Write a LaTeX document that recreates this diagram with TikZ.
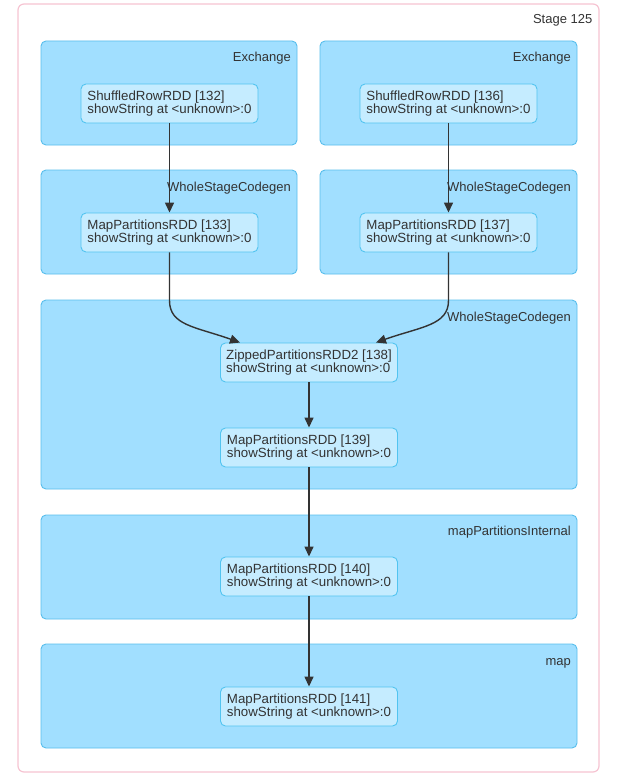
\documentclass[tikz,border=0pt]{standalone}
\usepackage{fontspec}
\setmainfont{Liberation Sans}
\usetikzlibrary{arrows.meta,calc}
\definecolor{stageline}{RGB}{246,196,210}
\definecolor{clfill}{RGB}{161,223,255}
\definecolor{clline}{RGB}{88,190,236}
\definecolor{rddfill}{RGB}{197,236,255}
\definecolor{rddline}{RGB}{82,196,240}
\definecolor{ink}{RGB}{51,51,51}
\tikzset{
  stagebox/.style={draw=stageline, line width=1.2pt, rounded corners=6pt, fill=white, inner sep=0pt},
  cluster/.style={draw=clline, line width=0.9pt, fill=clfill, rounded corners=5pt, inner sep=0pt},
  rdd/.style={draw=rddline, line width=0.9pt, fill=rddfill, rounded corners=5pt,
    minimum width=177pt, minimum height=39pt, inner xsep=0pt, inner ysep=0pt,
    align=left, text=ink, font=\fontsize{13.3}{12.8}\selectfont},
  clabel/.style={anchor=base east, inner sep=0pt, text=ink, font=\fontsize{13}{14}\selectfont},
  edge/.style={draw=ink, line width=1.4pt, -{Triangle[length=10pt,width=9pt]}}
}
\begin{document}
\begin{tikzpicture}[x=1pt, y=-1pt]
  \useasboundingbox (0,0) rectangle (619,784);

  % stage frame
  \node[stagebox, minimum width=581pt, minimum height=768pt] (stage) at (308.5,388) {};
  \node[clabel] (stagelbl) at (592.5,24) {Stage 125};

  % clusters
  \node[cluster, minimum width=256pt, minimum height=104pt] (ex1) at (169,93) {};
  \node[cluster, minimum width=257pt, minimum height=104pt] (ex2) at (448.5,93) {};
  \node[cluster, minimum width=256pt, minimum height=104pt] (wsc1) at (169,222) {};
  \node[cluster, minimum width=257pt, minimum height=104pt] (wsc2) at (448.5,222) {};
  \node[cluster, minimum width=536pt, minimum height=189pt] (wsc3) at (309,394.5) {};
  \node[cluster, minimum width=536pt, minimum height=104pt] (mpi) at (309,567) {};
  \node[cluster, minimum width=536pt, minimum height=104pt] (mp) at (309,696) {};

  \node[clabel] (ex1lbl) at (291,62) {Exchange};
  \node[clabel] (ex2lbl) at (571,62) {Exchange};
  \node[clabel] (wsc1lbl) at (291,191) {WholeStageCodegen};
  \node[clabel] (wsc2lbl) at (571,191) {WholeStageCodegen};
  \node[clabel] (wsc3lbl) at (571,321) {WholeStageCodegen};
  \node[clabel] (mpilbl) at (571,535) {mapPartitionsInternal};
  \node[clabel] (mplbl) at (571,665) {map};

  % RDD nodes
  \node[rdd] (n132) at (169.5,103.5) {ShuffledRowRDD [132]\\showString at <unknown>:0};
  \node[rdd] (n136) at (448.5,103.5) {ShuffledRowRDD [136]\\showString at <unknown>:0};
  \node[rdd] (n133) at (169.5,232.5) {MapPartitionsRDD [133]\\showString at <unknown>:0};
  \node[rdd] (n137) at (448.5,232.5) {MapPartitionsRDD [137]\\showString at <unknown>:0};
  \node[rdd] (n138) at (309,362.5) {ZippedPartitionsRDD2 [138]\\showString at <unknown>:0};
  \node[rdd] (n139) at (309,447.5) {MapPartitionsRDD [139]\\showString at <unknown>:0};
  \node[rdd] (n140) at (309,576.5) {MapPartitionsRDD [140]\\showString at <unknown>:0};
  \node[rdd] (n141) at (309,706.5) {MapPartitionsRDD [141]\\showString at <unknown>:0};

  % dependencies
  \draw[edge] (n132.south) -- (n133.north);
  \draw[edge] (n136.south) -- (n137.north);
  \draw[edge] (n133.south) -- ++(0,48)
    .. controls +(0,25) and +(-45,-16) .. ($(n138.north)+(-69,0)$);
  \draw[edge] (n137.south) -- ++(0,48)
    .. controls +(0,25) and +(45,-16) .. ($(n138.north)+(67,0)$);
  \draw[edge] (n138.south) -- (n139.north);
  \draw[edge] (n139.south) -- (n140.north);
  \draw[edge] (n140.south) -- (n141.north);
\end{tikzpicture}
\end{document}
